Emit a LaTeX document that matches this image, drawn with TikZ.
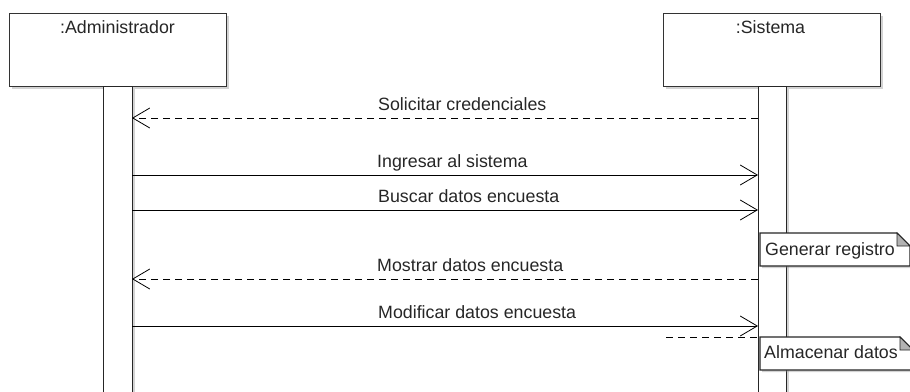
\documentclass[tikz,border=0pt]{standalone}
\usepackage{fontspec}
\setmainfont{Liberation Sans}
\usetikzlibrary{arrows.meta,shadows}
\begin{document}
\begin{tikzpicture}[x=1pt,y=-1pt,
  font=\fontsize{17.8}{20}\selectfont,
  shad/.style={drop shadow={shadow xshift=2pt,shadow yshift=-2pt,opacity=0.35,fill=gray}},
  objbox/.style={draw=black!80,line width=1.3pt,fill=white,shad},
  actbar/.style={draw=black!85,line width=1.1pt,fill=white,shad},
  msg/.style={draw=black,line width=0.8pt,-{Straight Barb[length=17pt,width=20pt,line width=0.8pt]}},
  ret/.style={msg,dash pattern=on 7pt off 5pt},
  lbl/.style={anchor=base west,inner sep=0pt,text=black!85},
  notebox/.style={draw=black!85,line width=1.1pt,fill=white,shad}]
\useasboundingbox (0,0) rectangle (910,391);
% object boxes
\node[objbox,minimum width=217pt,minimum height=73pt,anchor=north west,inner sep=0pt] (admin) at (9,13) {};
\node[objbox,minimum width=217pt,minimum height=73pt,anchor=north west,inner sep=0pt] (sis) at (663,13) {};
\node[lbl,anchor=base] (admint) at (117.5,33) {:Administrador};
\node[lbl,anchor=base] (sist) at (770.5,33) {:Sistema};
% activation bars
\node[actbar,minimum width=29pt,minimum height=312pt,anchor=north west,inner sep=0pt] (abar) at (103,86) {};
\node[actbar,minimum width=28pt,minimum height=312pt,anchor=north west,inner sep=0pt] (sbar) at (758,86) {};
% coordinates on bars
\foreach \n/\y in {1/118,2/175,3/210,4/279,5/326}{
  \coordinate (a\n) at (132,\y);
  \coordinate (s\n) at (758,\y);
}
\coordinate (r6a) at (666,337);
\coordinate (r6b) at (757,337);
% messages
\draw[ret] (s1) -- (a1);
\node[lbl] (l1) at (378,110) {Solicitar credenciales};
\draw[msg] (a2) -- (s2);
\node[lbl] (l2) at (377,167) {Ingresar al sistema};
\draw[msg] (a3) -- (s3);
\node[lbl] (l3) at (378,202) {Buscar datos encuesta};
\draw[ret] (s4) -- (a4);
\node[lbl] (l4) at (377,271) {Mostrar datos encuesta};
\draw[msg] (a5) -- (s5);
\node[lbl] (l5) at (378,318) {Modificar datos encuesta};
\draw[draw=black,line width=0.8pt,dash pattern=on 7pt off 5pt] (r6a) -- (r6b);
% notes
\path[notebox] (760,233) -- (897,233) -- (910,246) -- (910,266) -- (760,266) -- cycle;
\path[fill=black!30,draw=black!85,line width=0.8pt] (897,233) -- (897,246) -- (910,246) -- cycle;
\node[lbl] (n1) at (765,255) {Generar registro};
\path[notebox] (760,337) -- (900,337) -- (913,350) -- (913,370) -- (760,370) -- cycle;
\path[fill=black!30,draw=black!85,line width=0.8pt] (900,337) -- (900,350) -- (913,350) -- cycle;
\node[lbl] (n2) at (764,358) {Almacenar datos};
\end{tikzpicture}
\end{document}
